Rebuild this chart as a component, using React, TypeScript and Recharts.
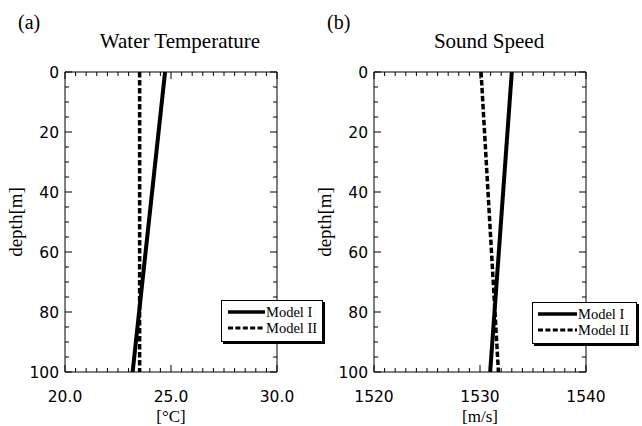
import React from 'react';
import { LineChart, Line, XAxis, YAxis, Legend } from 'recharts';

// ---- data ----
const depths = [0, 100];
const tempModelI = [24.72, 23.19];
const tempModelII = [23.52, 23.52];
const speedModelI = [1533.0, 1530.96];
const speedModelII = [1530.1, 1531.74];

const depthMajorTicks = [0, 20, 40, 60, 80, 100];
const tempMajorTicks = [20, 25, 30];
const speedMajorTicks = [1520, 1530, 1540];
const seriesNames = ['Model I', 'Model II'];

const SERIF = '"Liberation Serif", "Times New Roman", serif';
const SANS = '"DejaVu Sans", sans-serif';
const DASH = '5.5 2.5';

function range(start: number, end: number, step: number): number[] {
  const out: number[] = [];
  const n = Math.round((end - start) / step);
  for (let i = 0; i <= n; i++) out.push(+(start + i * step).toFixed(6));
  return out;
}

const tempData = depths.map((d, i) => ({ depth: d, m1: tempModelI[i], m2: tempModelII[i] }));
const speedData = depths.map((d, i) => ({ depth: d, m1: speedModelI[i], m2: speedModelII[i] }));

const isMajor = (majors: number[], v: number) => majors.some((m) => Math.abs(m - v) < 1e-9);

function makeTick(side: 'bottom' | 'top' | 'left' | 'right', majors: number[], format?: (v: number) => string) {
  return (props: any) => {
    const { x, y, payload } = props;
    const v = payload.value;
    const major = isMajor(majors, v);
    const len = major ? 7 : 4;
    let line;
    if (side === 'bottom') line = <line x1={x} y1={y} x2={x} y2={y - len} stroke="#000" strokeWidth={1} />;
    else if (side === 'top') line = <line x1={x} y1={y} x2={x} y2={y + len} stroke="#000" strokeWidth={1} />;
    else if (side === 'left') line = <line x1={x} y1={y} x2={x + len} y2={y} stroke="#000" strokeWidth={1} />;
    else line = <line x1={x} y1={y} x2={x - len} y2={y} stroke="#000" strokeWidth={1} />;
    let label = null;
    if (major && format) {
      if (side === 'bottom')
        label = (
          <text x={x} y={y + 24} dy="0.36em" textAnchor="middle" fontFamily={SANS} fontSize={15.5} fill="#000">
            {format(v)}
          </text>
        );
      else if (side === 'left')
        label = (
          <text x={x - 6} y={y} dy="0.36em" textAnchor="end" fontFamily={SANS} fontSize={15.5} fill="#000">
            {format(v)}
          </text>
        );
    }
    return (
      <g>
        {line}
        {label}
      </g>
    );
  };
}

type PanelProps = {
  left: number;
  width: number;
  plotLeft: number;
  plotRight: number;
  data: any[];
  xDomain: [number, number];
  xMajor: number[];
  xStep: number;
  xFormat: (v: number) => string;
  title: string;
  letter: string;
  unit: string;
  legend: { left: number; top: number; width: number; height: number; sample: number; pad: number };
};

function LegendBox({ sample, pad }: { sample: number; pad: number }) {
  return (
    <div
      style={{
        boxSizing: 'border-box',
        width: '100%',
        height: '100%',
        background: '#fff',
        border: '1px solid #000',
        boxShadow: '2px 2px 0 #000',
        paddingTop: 3,
        paddingLeft: pad,
      }}
    >
      {seriesNames.map((name, i) => (
        <div key={name} style={{ display: 'flex', alignItems: 'center', height: 16 }}>
          <svg width={sample} height={6} style={{ display: 'block' }}>
            <line
              x1={0}
              y1={3}
              x2={sample}
              y2={3}
              stroke="#000"
              strokeWidth={i === 0 ? 3.5 : 3}
              strokeDasharray={i === 0 ? undefined : '5 2.4'}
            />
          </svg>
          <span style={{ fontFamily: SERIF, fontSize: 14.5, lineHeight: '16px', marginLeft: 1, color: '#000', whiteSpace: 'nowrap' }}>
            {name}
          </span>
        </div>
      ))}
    </div>
  );
}

const PLOT_TOP = 72;
const PLOT_BOTTOM = 372;
const H = 426;
const AX = 1; // axis thickness allotment

function Panel(p: PanelProps) {
  const xTicks = range(p.xDomain[0], p.xDomain[1], p.xStep);
  const yTicks = range(0, 100, 5);
  const margin = {
    top: PLOT_TOP - AX,
    bottom: H - PLOT_BOTTOM - AX,
    left: p.plotLeft - AX,
    right: p.width - p.plotRight - AX,
  };

  const titleLabel = (props: any) => {
    const vb = props.viewBox || {};
    const top = vb.y + vb.height;
    return (
      <g>
        <text x={vb.x + vb.width / 2 + 9} y={top - 24} textAnchor="middle" fontFamily={SERIF} fontSize={21} fill="#000">
          {p.title}
        </text>
        <text x={vb.x - 47} y={top - 43.5} textAnchor="start" fontFamily={SERIF} fontSize={20} fill="#000">
          {p.letter}
        </text>
      </g>
    );
  };
  const unitLabel = (props: any) => {
    const vb = props.viewBox || {};
    return (
      <text x={vb.x + vb.width / 2} y={vb.y + 49.5} textAnchor="middle" fontFamily={SERIF} fontSize={17} fill="#000">
        {p.unit}
      </text>
    );
  };
  const depthLabel = (props: any) => {
    const vb = props.viewBox || {};
    const cx = vb.x + vb.width - 49;
    const cy = vb.y + vb.height / 2;
    return (
      <text
        x={cx}
        y={cy}
        dy="0.3em"
        transform={`rotate(-90 ${cx} ${cy})`}
        textAnchor="middle"
        fontFamily={SERIF}
        fontSize={19}
        fill="#000"
      >
        depth[m]
      </text>
    );
  };

  return (
    <div style={{ position: 'absolute', left: p.left, top: 0 }}>
      <LineChart width={p.width} height={H} data={p.data} layout="vertical" margin={margin}>
        <XAxis
          xAxisId="bottom"
          type="number"
          orientation="bottom"
          domain={p.xDomain}
          allowDataOverflow
          ticks={xTicks}
          interval={0}
          height={AX}
          tickSize={0}
          tickMargin={0}
          tickLine={false}
          axisLine={{ stroke: '#000', strokeWidth: 1 }}
          tick={makeTick('bottom', p.xMajor, p.xFormat)}
          label={unitLabel}
        />
        <XAxis
          xAxisId="top"
          type="number"
          orientation="top"
          domain={p.xDomain}
          allowDataOverflow
          ticks={xTicks}
          interval={0}
          height={AX}
          tickSize={0}
          tickMargin={0}
          tickLine={false}
          axisLine={{ stroke: '#000', strokeWidth: 1 }}
          tick={makeTick('top', p.xMajor)}
          label={titleLabel}
        />
        <YAxis
          yAxisId="left"
          type="number"
          dataKey="depth"
          orientation="left"
          domain={[0, 100]}
          allowDataOverflow
          ticks={yTicks}
          interval={0}
          width={AX}
          tickSize={0}
          tickMargin={0}
          tickLine={false}
          axisLine={{ stroke: '#000', strokeWidth: 1 }}
          tick={makeTick('left', depthMajorTicks, (v) => String(v))}
          label={depthLabel}
        />
        <YAxis
          yAxisId="right"
          type="number"
          dataKey="depth"
          orientation="right"
          domain={[0, 100]}
          allowDataOverflow
          ticks={yTicks}
          interval={0}
          width={AX}
          tickSize={0}
          tickMargin={0}
          tickLine={false}
          axisLine={{ stroke: '#000', strokeWidth: 1 }}
          tick={makeTick('right', depthMajorTicks)}
        />
        <Line
          xAxisId="bottom"
          yAxisId="left"
          dataKey="m1"
          name={seriesNames[0]}
          stroke="#000"
          strokeWidth={4}
          dot={false}
          activeDot={false}
          isAnimationActive={false}
        />
        <Line
          xAxisId="bottom"
          yAxisId="left"
          dataKey="m2"
          name={seriesNames[1]}
          stroke="#000"
          strokeWidth={3.5}
          strokeDasharray={DASH}
          dot={false}
          activeDot={false}
          isAnimationActive={false}
        />
        <Legend
          layout="vertical"
          align="center"
          verticalAlign="middle"
          wrapperStyle={{
            position: 'absolute',
            left: p.legend.left,
            top: p.legend.top,
            width: p.legend.width,
            height: p.legend.height,
          }}
          content={() => <LegendBox sample={p.legend.sample} pad={p.legend.pad} />}
        />
      </LineChart>
    </div>
  );
}

export default function App() {
  return (
    <div style={{ position: 'absolute', left: 0, top: 0, width: 642, height: 426, background: '#fff', overflow: 'hidden' }}>
      <Panel
        left={0}
        width={330}
        plotLeft={65}
        plotRight={277}
        data={tempData}
        xDomain={[20, 30]}
        xMajor={tempMajorTicks}
        xStep={0.5}
        xFormat={(v) => v.toFixed(1)}
        title="Water Temperature"
        letter="(a)"
        unit="[°C]"
        legend={{ left: 221, top: 300, width: 102, height: 42, sample: 37, pad: 6 }}
      />
      <Panel
        left={306}
        width={336}
        plotLeft={68}
        plotRight={280}
        data={speedData}
        xDomain={[1520, 1540]}
        xMajor={speedMajorTicks}
        xStep={1}
        xFormat={(v) => String(v)}
        title="Sound Speed"
        letter="(b)"
        unit="[m/s]"
        legend={{ left: 226, top: 302, width: 105, height: 42, sample: 39, pad: 5 }}
      />
    </div>
  );
}
